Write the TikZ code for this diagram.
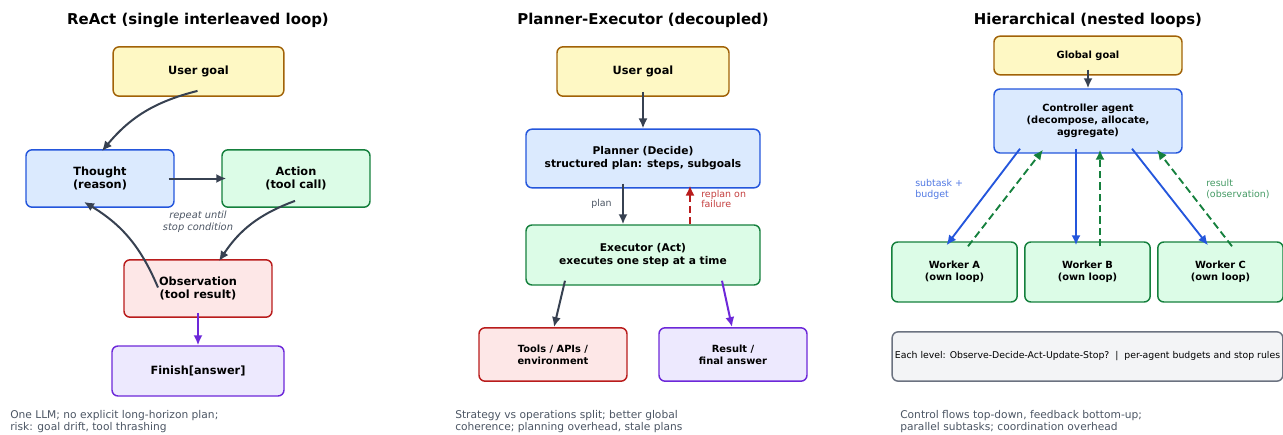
\documentclass[tikz,border=0pt]{standalone}
\usepackage{fontspec}
\setmainfont{DejaVu Sans}
\usetikzlibrary{arrows.meta,calc}

\definecolor{goalfill}{HTML}{FEF8C4}
\definecolor{goaldraw}{HTML}{A16207}
\definecolor{thinkfill}{HTML}{DBEAFE}
\definecolor{thinkdraw}{HTML}{2456DC}
\definecolor{actfill}{HTML}{DCFCE7}
\definecolor{actdraw}{HTML}{15803D}
\definecolor{obsfill}{HTML}{FDE7E7}
\definecolor{obsdraw}{HTML}{B91C1C}
\definecolor{donefill}{HTML}{EDE9FE}
\definecolor{donedraw}{HTML}{6D28D9}
\definecolor{notefill}{HTML}{F3F4F6}
\definecolor{notedraw}{HTML}{6B7280}
\definecolor{flow}{HTML}{374151}
\definecolor{caption}{HTML}{4B5563}

\tikzset{
  box/.style={draw, rounded corners=4.5pt, line width=1.1pt, align=center,
    inner sep=0pt, font=\bfseries\fontsize{8.5}{10.2}\selectfont},
  widebox/.style={box, font=\bfseries\fontsize{8}{9.8}\selectfont},
  smallbox/.style={box, font=\bfseries\fontsize{7.4}{9}\selectfont},
  goal/.style={draw=goaldraw, fill=goalfill},
  think/.style={draw=thinkdraw, fill=thinkfill},
  act/.style={draw=actdraw, fill=actfill},
  obs/.style={draw=obsdraw, fill=obsfill},
  done/.style={draw=donedraw, fill=donefill},
  title/.style={font=\bfseries\fontsize{11.2}{13}\selectfont},
  caption/.style={anchor=north west, align=left, text=caption,
    inner sep=0pt, font=\fontsize{8}{9}\selectfont},
  label/.style={align=left, inner sep=0pt, font=\fontsize{7.1}{8.2}\selectfont},
  tip/.style={-{Latex[length=7.5pt,width=6.8pt]}},
  flowarrow/.style={tip, line width=1.5pt, draw=flow},
  back/.style={dash pattern=on 5.5pt off 3pt},
}

\begin{document}
\begin{tikzpicture}[x=0.75pt, y=-0.75pt]
    \useasboundingbox (0,0) rectangle (1283,435);

    % ReAct
    \node[title] (t1) at (198,20) {ReAct (single interleaved loop)};
    \node[box, goal, minimum width=128pt, minimum height=37pt] (ug1) at (198.5,71.5) {User goal};
    \node[box, think, minimum width=111pt, minimum height=43pt] (th) at (100,178.5) {Thought\\(reason)};
    \node[box, act, minimum width=111pt, minimum height=43pt] (ac) at (296,178.5) {Action\\(tool call)};
    \node[box, obs, minimum width=111pt, minimum height=43pt] (ob) at (198,288.5) {Observation\\(tool result)};
    \node[box, done, minimum width=129pt, minimum height=37.5pt] (fin) at (198,371) {Finish[answer]};
    \node[label, align=center, text=caption, font=\itshape\fontsize{7.4}{8.8}\selectfont] (rep) at (198,222) {repeat until\\stop condition};

    \draw[flowarrow] ($(ug1.south)+(-1,-6)$) to[bend right=18] ($(th.north)+(2,2)$);
    \draw[flowarrow] ($(th.east)+(-6,0)$) -- ($(ac.west)+(5,0)$);
    \draw[flowarrow] ($(ac.south)+(-1,-7)$) to[bend right=18] ($(ob.north)+(21,2)$);
    \draw[flowarrow] ($(ob.center)+(-40,-1)$) to[bend right=18] ($(th.south)+(-16,-6)$);
    \draw[tip, line width=1.5pt, donedraw] ($(ob.south)+(0,-5)$) -- (fin.north);

    \node[caption] (c1) at (10,410) {One LLM; no explicit long-horizon plan;\\risk: goal drift, tool thrashing};

    % Planner-Executor
    \node[title] (t2) at (643,20) {Planner-Executor (decoupled)};
    \node[box, goal, minimum width=129pt, minimum height=37pt] (ug2) at (643,71.5) {User goal};
    \node[widebox, think, minimum width=175.5pt, minimum height=44pt] (pl) at (643,158.5) {Planner (Decide)\\structured plan: steps, subgoals};
    \node[widebox, act, minimum width=175.5pt, minimum height=45pt] (ex) at (643,255) {Executor (Act)\\executes one step at a time};
    \node[smallbox, obs, minimum width=111pt, minimum height=40pt] (tl) at (553,354.5) {Tools / APIs /\\environment};
    \node[smallbox, done, minimum width=111pt, minimum height=40pt] (rs) at (733,354.5) {Result /\\final answer};

    \draw[flowarrow] ($(ug2.south)+(0,-5)$) -- (pl.north);
    \draw[flowarrow] ($(pl.south)+(-20,-5)$) -- ($(ex.north)+(-20,0)$);
    \draw[tip, line width=1.5pt, obsdraw, back] (ex.north -| 690,0) -- ($(pl.south -| 690,0)+(0,-3)$);
    \draw[flowarrow] ($(ex.south)+(-78,-5)$) -- ($(tl.north)+(1,0)$);
    \draw[tip, line width=1.5pt, donedraw] ($(ex.south)+(79,-5)$) -- ($(rs.north)+(-1,0)$);

    \node[label, text=caption, anchor=east] (lp) at (612,204) {plan};
    \node[label, text=obsdraw!85, anchor=west] (lr) at (701,199) {replan on\\failure};
    \node[caption] (c2) at (455,410) {Strategy vs operations split; better global\\coherence; planning overhead, stale plans};

    % Hierarchical
    \node[title] (t3) at (1088,20) {Hierarchical (nested loops)};
    \node[smallbox, goal, minimum width=141pt, minimum height=29pt] (gg) at (1088,55.5) {Global goal};
    \node[smallbox, think, minimum width=141pt, minimum height=48pt] (ct) at (1088,121) {Controller agent\\(decompose, allocate,\\aggregate)};
    \node[smallbox, act, minimum width=94pt, minimum height=45pt] (wa) at (954.5,272) {Worker A\\(own loop)};
    \node[smallbox, act, minimum width=94pt, minimum height=45pt] (wb) at (1087.5,272) {Worker B\\(own loop)};
    \node[smallbox, act, minimum width=94pt, minimum height=45pt] (wc) at (1220.5,272) {Worker C\\(own loop)};
    \node[box, draw=notedraw, fill=notefill, minimum width=293pt, minimum height=37pt,
      font=\fontsize{7}{8}\selectfont] (lv) at (1087.5,356.5)
      {Each level: Observe-Decide-Act-Update-Stop?~~|~~per-agent budgets and stop rules};

    \draw[flowarrow] ($(gg.south)+(0,-6)$) -- (ct.north);
    % control goes down
    \draw[tip, line width=1.4pt, thinkdraw] ($(ct.south)+(-68,-5)$) -- ($(wa.north)+(-8,4)$);
    \draw[tip, line width=1.4pt, thinkdraw] ($(ct.south)+(-12,-5)$) -- ($(wb.north)+(-11.5,4)$);
    \draw[tip, line width=1.4pt, thinkdraw] ($(ct.south)+(44,-5)$) -- ($(wc.north)+(-12.5,4)$);
    % feedback comes up
    \draw[tip, line width=1.4pt, actdraw, back] ($(wa.north)+(13.5,5)$) -- ($(ct.south)+(-45,-4)$);
    \draw[tip, line width=1.4pt, actdraw, back] ($(wb.north)+(12.5,5)$) -- ($(ct.south)+(12,-4)$);
    \draw[tip, line width=1.4pt, actdraw, back] ($(wc.north)+(11.5,5)$) -- ($(ct.south)+(69,-4)$);

    \node[label, text=thinkdraw!80, anchor=west] (ls) at (915,189) {subtask +\\budget};
    \node[label, text=actdraw!80, anchor=west] (lo) at (1206,189) {result\\(observation)};
    \node[caption] (c3) at (900,410) {Control flows top-down, feedback bottom-up;\\parallel subtasks; coordination overhead};
\end{tikzpicture}
\end{document}
